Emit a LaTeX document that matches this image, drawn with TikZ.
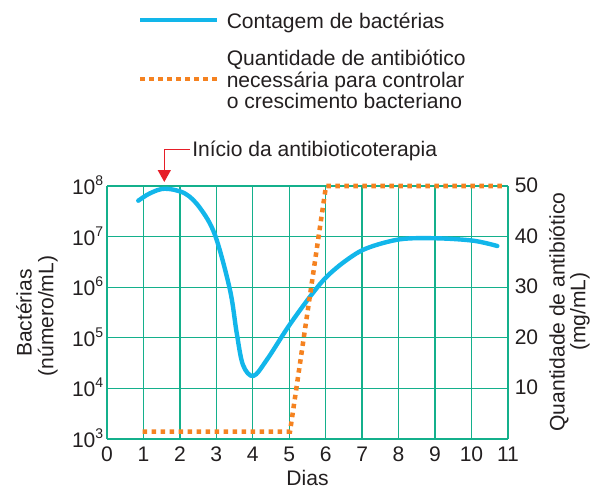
\documentclass[tikz,border=0pt]{standalone}
\usepackage{fontspec}
\setmainfont{Liberation Sans}
\usetikzlibrary{arrows.meta}
\definecolor{gridc}{RGB}{20,176,140}
\definecolor{bluec}{RGB}{18,182,234}
\definecolor{orangec}{RGB}{245,130,32}
\definecolor{redc}{RGB}{230,30,40}
\definecolor{textc}{RGB}{35,31,32}
\newcommand{\tenpow}[1]{10\raisebox{6.75pt}{\fontsize{10.5}{10.5}\selectfont #1}}
\begin{document}
\begin{tikzpicture}[x=0.75pt,y=-0.75pt,
  every node/.style={inner sep=0pt, text=textc, font=\fontsize{15.8}{16.3}\selectfont},
  gridline/.style={draw=gridc, line width=1pt},
  bactline/.style={draw=bluec, line width=3.3pt, line cap=round, line join=round},
  antiline/.style={draw=orangec, line width=3.4pt, dash pattern=on 3.4pt off 3.35pt},
  pointer/.style={draw=redc, line width=1.1pt, -{Triangle[width=9.75pt,length=9pt]}},
  ]
\useasboundingbox (0,0) rectangle (590,489);
% grid
\foreach \i in {0,...,11} \draw[gridline] ({107+36.45*\i},186) -- ({107+36.45*\i},439);
\foreach \j in {0,...,5} \draw[gridline] (107,{439-50.6*\j}) -- (508,{439-50.6*\j});
% x tick labels
\foreach \i in {0,...,11} \node[anchor=base] (xl\i) at ({107+36.45*\i},461.3) {\i};
% left tick labels
\foreach \k [count=\j from 0] in {3,...,8} \node[anchor=base east] (yl\k) at (103.5,{439-50.6*\j+8.5}) {\tenpow{\k}};
% right tick labels
\foreach \v [count=\j] in {10,20,30,40,50} \node[anchor=base west] (yr\v) at (514.5,{439-50.6*\j+6.5}) {\v};
% axis titles
\node[anchor=base] (dias) at (307.5,485) {Dias};
\node[rotate=90, anchor=base] (lt1) at (31.7,313) {Bactérias};
\node[rotate=90, anchor=base] (lt2) at (53.3,316) {(número/mL)};
\node[rotate=90, anchor=base] (rt1) at (564.5,312) {Quantidade de antibiótico};
\node[rotate=90, anchor=base] (rt2) at (585.3,311.5) {(mg/mL)};
% legend
\coordinate (lb1) at (140,20); \coordinate (lb2) at (217,20);
\draw[bactline, line cap=butt, line width=3pt] (lb1) -- (lb2);
\node[anchor=base west] (leg1) at (226.5,28.3) {Contagem de bactérias};
\coordinate (lo1) at (140,79); \coordinate (lo2) at (217,79);
\draw[antiline] (lo1) -- (lo2);
\node[anchor=north west, align=left] (leg2) at (226.5,49.5) {Quantidade de antibiótico\\necessária para controlar\\o crescimento bacteriano};
% start marker
\node[anchor=base west] (start) at (192,156) {Início da antibioticoterapia};
\coordinate (redstart) at (190,149.3);
\coordinate (tip) at (164.3,182);
\draw[pointer] (redstart) -| (tip);
% curves
\draw[bactline] plot[smooth, tension=0.55] coordinates {(138.3,200.7) (150,193.3) (165,188.7) (185,193.5) (200,208) (215,235) (230,290) (236.7,333) (243,365) (253.3,376) (266.7,360) (288.3,326.7) (310,296.7) (326.7,276.7) (346.7,260) (366.7,248.3) (400,239.3) (436.7,238.3) (473.3,240.7) (497.3,246)};
\draw[antiline] (142.7,431.7) -- (290,431.7) -- (326,186) -- (506,186);
\end{tikzpicture}
\end{document}
